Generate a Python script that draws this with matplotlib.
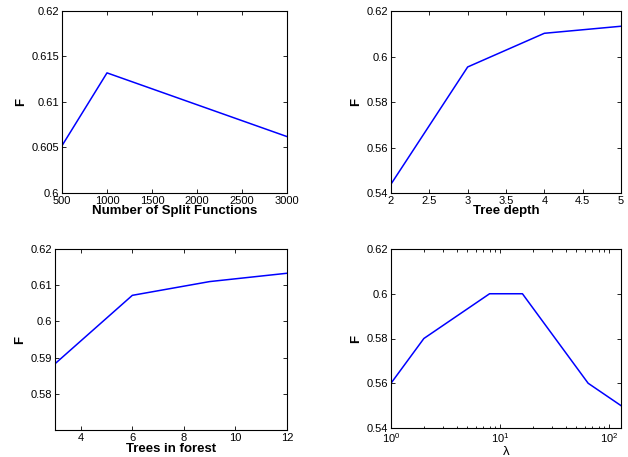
import matplotlib
matplotlib.use('Agg')
import matplotlib.pyplot as plt
from matplotlib import ticker

plt.rcParams['font.family'] = ['Liberation Sans', 'DejaVu Sans']

# split functions
split_x = [500, 1000, 3000]
split_f = [0.6052, 0.6132, 0.6062]

# tree depth
depth_x = [2, 3, 4, 5]
depth_f = [0.5439, 0.5954, 0.6102, 0.6133]

# trees in forest
trees_x = [3, 6, 9, 12]
trees_f = [0.5883, 0.6072, 0.6110, 0.6133]

# lambda
lam_x = [1, 2, 8, 16, 64, 128]
lam_f = [0.56, 0.58, 0.60, 0.60, 0.56, 0.55]

W, H = 628, 457
fig = plt.figure(figsize=(W / 100, H / 100), dpi=100)


def box(left, right, top, bottom):
    # pixel box -> axes
    return fig.add_axes([left / W, (H - bottom) / H, (right - left) / W, (bottom - top) / H])


def style(ax):
    ax.tick_params(which='both', direction='in', top=True, right=True, labelsize=8,
                   length=3, width=0.6)
    ax.tick_params(axis='x', pad=2.5)
    ax.tick_params(axis='y', pad=2)
    ax.tick_params(which='minor', length=1.8)
    for s in ax.spines.values():
        s.set_linewidth(0.8)
    ax.set_ylabel('F', fontsize=9.5, fontweight='bold', labelpad=3)


ax1 = box(62, 287, 11, 193)
ax1.plot(split_x, split_f, color='#0000ff', lw=1.1)
ax1.set_xlim(500, 3000)
ax1.set_ylim(0.6, 0.62)
ax1.set_xticks([500, 1000, 1500, 2000, 2500, 3000])
ax1.set_yticks([0.6, 0.605, 0.61, 0.615, 0.62])
ax1.set_yticklabels(['0.6', '0.605', '0.61', '0.615', '0.62'])
style(ax1)
ax1.set_xlabel('Number of Split Functions', fontsize=9.5, fontweight='bold', labelpad=-1)

ax2 = box(391, 621, 11, 193)
ax2.plot(depth_x, depth_f, color='#0000ff', lw=1.1)
ax2.set_xlim(2, 5)
ax2.set_ylim(0.54, 0.62)
ax2.set_xticks([2, 2.5, 3, 3.5, 4, 4.5, 5])
ax2.set_xticklabels(['2', '2.5', '3', '3.5', '4', '4.5', '5'])
ax2.set_yticks([0.54, 0.56, 0.58, 0.6, 0.62])
ax2.set_yticklabels(['0.54', '0.56', '0.58', '0.6', '0.62'])
style(ax2)
ax2.set_xlabel('Tree depth', fontsize=9.5, fontweight='bold', labelpad=-1)

ax3 = box(55, 287, 249, 430)
ax3.plot(trees_x, trees_f, color='#0000ff', lw=1.1)
ax3.set_xlim(3, 12)
ax3.set_ylim(0.57, 0.62)
ax3.set_xticks([4, 6, 8, 10, 12])
ax3.set_yticks([0.58, 0.59, 0.6, 0.61, 0.62])
ax3.set_yticklabels(['0.58', '0.59', '0.6', '0.61', '0.62'])
style(ax3)
ax3.set_xlabel('Trees in forest', fontsize=9.5, fontweight='bold', labelpad=0)

ax4 = box(391, 621, 249, 428)
ax4.plot(lam_x, lam_f, color='#0000ff', lw=1.1)
ax4.set_xscale('log')
ax4.set_xlim(1, 128)
ax4.set_ylim(0.54, 0.62)
ax4.set_xticks([1, 10, 100])
ax4.xaxis.set_major_formatter(ticker.LogFormatterMathtext())
ax4.xaxis.set_minor_locator(ticker.LogLocator(subs=range(2, 10)))
ax4.xaxis.set_minor_formatter(ticker.NullFormatter())
ax4.set_yticks([0.54, 0.56, 0.58, 0.6, 0.62])
ax4.set_yticklabels(['0.54', '0.56', '0.58', '0.6', '0.62'])
style(ax4)
ax4.set_xlabel('λ', fontsize=9.5, labelpad=0.5)

fig.savefig('out.png', dpi=100)
